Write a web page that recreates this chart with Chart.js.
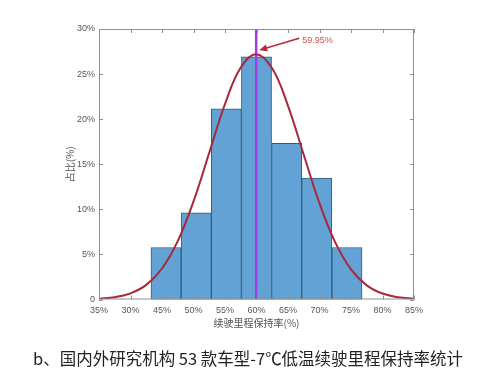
<!DOCTYPE html>
<html>
<head>
<meta charset="utf-8">
<script src="https://cdn.jsdelivr.net/npm/chart.js@4"></script>
<style>
  html, body { margin: 0; padding: 0; background: #fff; }
  #wrap { width: 498px; height: 378px; position: relative; }
</style>
</head>
<body>
<div id="wrap"><canvas id="chart"></canvas></div>
<script>
// histogram bins (centre of each bin, share of vehicles in %)
const binCenters = [45.64, 50.43, 55.21, 60.0, 64.79, 69.57, 74.36];
const binShares = [5.77, 9.62, 21.15, 26.92, 17.31, 13.46, 5.77];

// fitted normal curve
const curveX = [35, 37.5, 40, 42.5, 45, 47.5, 50, 52.5, 55, 57.5, 59.95, 62.5, 65, 67.5, 70, 72.5, 75, 77.5, 80, 82.5, 85];
const curveY = [0.09, 0.26, 0.68, 1.62, 3.44, 6.48, 10.88, 16.27, 21.68, 25.73, 27.2, 25.61, 21.48, 16.05, 10.68, 6.33, 3.34, 1.57, 0.66, 0.25, 0.08];

const meanValue = 59.95;
const meanLabel = '59.95%';

// tick labels as printed (second one really says 30%)
const xTickLabels = ['35%', '30%', '45%', '50%', '55%', '60%', '65%', '70%', '75%', '80%', '85%'];
const yTickLabels = ['0', '5%', '10%', '15%', '20%', '25%', '30%'];

const xTitle = '续驶里程保持率(%)';
const yTitle = '占比(%)';
const caption = 'b、国内外研究机构 53 款车型-7℃低温续驶里程保持率统计';

const tickFont = { family: 'Liberation Sans, Arial, sans-serif', size: 9 };
const cjk = '"Noto Sans CJK SC", sans-serif';

// frame, inside ticks, titles, arrow note, caption
const decor = {
  id: 'decor',
  afterDatasetsDraw(chart) {
    const { ctx, chartArea: a, scales: { x, y } } = chart;
    ctx.save();
    ctx.strokeStyle = '#8f8f8f';
    ctx.lineWidth = 1;
    ctx.strokeRect(a.left + 0.5, a.top + 0.5, a.right - a.left - 1, a.bottom - a.top - 1);
    ctx.beginPath();
    x.ticks.forEach(t => {
      const px = Math.round(x.getPixelForValue(t.value)) + 0.5;
      ctx.moveTo(px, a.bottom); ctx.lineTo(px, a.bottom - 4);
      ctx.moveTo(px, a.top); ctx.lineTo(px, a.top + 4);
    });
    y.ticks.forEach(t => {
      const py = Math.round(y.getPixelForValue(t.value)) + 0.5;
      ctx.moveTo(a.left, py); ctx.lineTo(a.left + 4, py);
      ctx.moveTo(a.right, py); ctx.lineTo(a.right - 4, py);
    });
    ctx.stroke();

    // arrow to the peak
    const tipX = x.getPixelForValue(meanValue) + 3;
    const tipY = y.getPixelForValue(27.2) - 4;
    const tailX = tipX + 40, tailY = tipY - 12;
    const ang = Math.atan2(tipY - tailY, tipX - tailX);
    ctx.strokeStyle = '#b3283c';
    ctx.fillStyle = '#b3283c';
    ctx.lineWidth = 1.5;
    ctx.beginPath();
    ctx.moveTo(tailX, tailY);
    ctx.lineTo(tipX - 5 * Math.cos(ang), tipY - 5 * Math.sin(ang));
    ctx.stroke();
    ctx.beginPath();
    ctx.moveTo(tipX, tipY);
    ctx.lineTo(tipX - 8 * Math.cos(ang) + 3.5 * Math.sin(ang), tipY - 8 * Math.sin(ang) - 3.5 * Math.cos(ang));
    ctx.lineTo(tipX - 8 * Math.cos(ang) - 3.5 * Math.sin(ang), tipY - 8 * Math.sin(ang) + 3.5 * Math.cos(ang));
    ctx.closePath();
    ctx.fill();
    ctx.fillStyle = '#d0504f';
    ctx.font = '9px Liberation Sans, Arial, sans-serif';
    ctx.textAlign = 'left';
    ctx.textBaseline = 'middle';
    ctx.fillText(meanLabel, tailX + 3, tailY + 2);

    // axis titles
    ctx.fillStyle = '#555';
    ctx.font = '10px ' + cjk;
    ctx.textAlign = 'center';
    ctx.fillText(xTitle, (a.left + a.right) / 2, a.bottom + 24);
    ctx.save();
    ctx.translate(a.left - 29, (a.top + a.bottom) / 2);
    ctx.rotate(-Math.PI / 2);
    ctx.fillText(yTitle, 0, 0);
    ctx.restore();

    // caption
    ctx.fillStyle = '#222';
    ctx.font = '16px ' + cjk;
    const w = ctx.measureText(caption).width;
    const size = 16 * 430 / w;
    ctx.font = size.toFixed(2) + 'px ' + cjk;
    ctx.fillText(caption, 248, 359);
    ctx.restore();
  }
};

new Chart(document.getElementById('chart'), {
  type: 'bar',
  data: {
    datasets: [
      {
        type: 'line',
        data: curveX.map((v, i) => ({ x: v, y: curveY[i] })),
        borderColor: '#a8283a',
        borderWidth: 2,
        pointRadius: 0,
        tension: 0.4,
        fill: false,
        order: 0
      },
      {
        type: 'line',
        data: [{ x: meanValue, y: 0 }, { x: meanValue, y: 30 }],
        borderColor: '#a63be6',
        borderWidth: 2.5,
        pointRadius: 0,
        fill: false,
        order: 1
      },
      {
        type: 'bar',
        data: binCenters.map((v, i) => ({ x: v, y: binShares[i] })),
        backgroundColor: '#62a2d5',
        borderColor: '#2e5f7f',
        borderWidth: 1,
        borderSkipped: false,
        barPercentage: 1,
        categoryPercentage: 1,
        order: 2
      }
    ]
  },
  options: {
    responsive: true,
    maintainAspectRatio: false,
    animation: false,
    layout: { padding: { left: 0, top: 29, right: 84, bottom: 0 } },
    plugins: { legend: { display: false }, tooltip: { enabled: false } },
    scales: {
      x: {
        type: 'linear',
        offset: false,
        min: 35,
        max: 85,
        grid: { display: false, drawTicks: false },
        border: { display: false },
        afterFit: s => { s.height = 78.5; },
        ticks: {
          stepSize: 5,
          autoSkip: false,
          maxRotation: 0,
          padding: 6,
          color: '#555',
          font: tickFont,
          callback: (v, i) => xTickLabels[i]
        }
      },
      y: {
        min: 0,
        max: 30,
        grid: { display: false, drawTicks: false },
        border: { display: false },
        afterFit: s => { s.width = 99; },
        ticks: {
          stepSize: 5,
          padding: 4,
          color: '#555',
          font: tickFont,
          callback: (v, i) => yTickLabels[i]
        }
      }
    }
  },
  plugins: [decor]
});
</script>
</body>
</html>
